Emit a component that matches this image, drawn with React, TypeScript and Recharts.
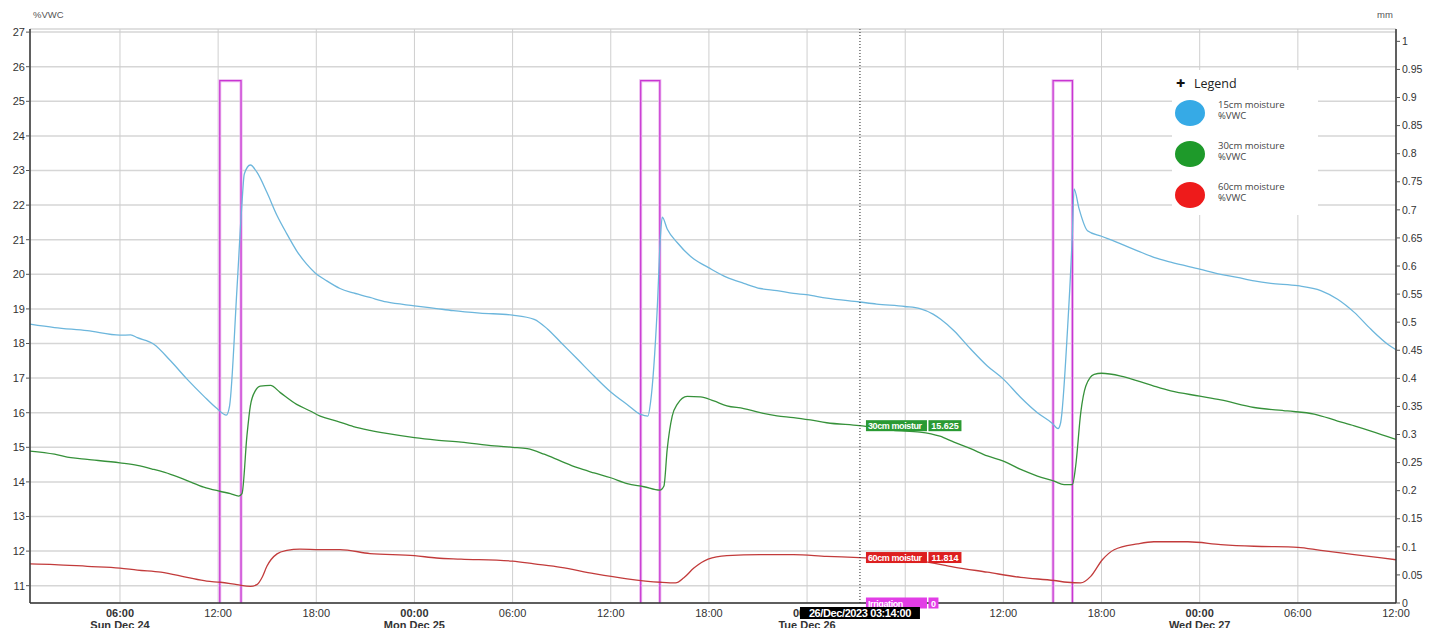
import React from 'react';
import {
  LineChart,
  Line,
  XAxis,
  YAxis,
  CartesianGrid,
  ReferenceLine,
  ReferenceDot,
  Legend,
} from 'recharts';

// time in hours since Sun Dec 24 00:00
const xTicks = [6, 12, 18, 24, 30, 36, 42, 48, 54, 60, 66, 72, 78, 84];
const dayLabels: Record<number, string> = {
  6: 'Sun Dec 24',
  24: 'Mon Dec 25',
  48: 'Tue Dec 26',
  72: 'Wed Dec 27',
};
const leftTicks = [11, 12, 13, 14, 15, 16, 17, 18, 19, 20, 21, 22, 23, 24, 25, 26, 27];
const rightTicks = [0, 0.05, 0.1, 0.15, 0.2, 0.25, 0.3, 0.35, 0.4, 0.45, 0.5, 0.55, 0.6, 0.65, 0.7, 0.75, 0.8, 0.85, 0.9, 0.95, 1];

const moisture15: [number, number][] = [
  [0.5, 18.56], [2, 18.46], [4, 18.37], [6, 18.24], [6.65, 18.25], [7.06, 18.17], [8.07, 17.98],
  [9.09, 17.5], [10.1, 16.97], [11.12, 16.48], [11.93, 16.12], [12.5, 15.93], [12.7, 16.2],
  [13.15, 19.57], [13.46, 22.08], [13.6, 22.9], [13.97, 23.16], [14.37, 22.95], [14.98, 22.37],
  [15.6, 21.7], [16.2, 21.17], [16.8, 20.68], [17.4, 20.3], [17.93, 20.04], [18.64, 19.81],
  [19.45, 19.59], [20.27, 19.46], [21.28, 19.33], [22.3, 19.2], [24, 19.09], [25.35, 19.01],
  [26.37, 18.95], [28, 18.88], [30, 18.82], [31.32, 18.7], [32.13, 18.42], [32.95, 18.03],
  [33.96, 17.55], [34.98, 17.06], [36, 16.6], [37, 16.24], [37.83, 15.95], [38.27, 15.9],
  [38.43, 16.29], [38.84, 18.99], [39.04, 21.12], [39.15, 21.65], [39.45, 21.31], [40.06, 20.92],
  [41.08, 20.44], [41.95, 20.2], [43.1, 19.91], [44.13, 19.74], [45.14, 19.59], [46.16, 19.53],
  [47.17, 19.45], [47.95, 19.41], [49.2, 19.31], [51.2, 19.2], [52.25, 19.14], [53.98, 19.07],
  [54.9, 19.01], [55.7, 18.85], [56.17, 18.7], [56.98, 18.37], [58, 17.84], [59.02, 17.35],
  [60, 16.97], [61.06, 16.44], [62.08, 16.0], [63, 15.69], [63.34, 15.54], [63.5, 15.71],
  [63.91, 18.32], [64.22, 21.21], [64.32, 22.47], [64.63, 21.89], [65.14, 21.26], [66, 21.1],
  [67.18, 20.88], [68.2, 20.68], [69.2, 20.49], [70.23, 20.35], [72, 20.15], [73.29, 20.0],
  [74.3, 19.91], [75.33, 19.81], [76.35, 19.74], [78, 19.67], [79.4, 19.53], [80.43, 19.28],
  [81.45, 18.9], [82.47, 18.41], [83.49, 17.98], [84, 17.82],
];

const moisture30: [number, number][] = [
  [0.5, 14.89], [2, 14.8], [3, 14.7], [4, 14.65], [6, 14.55], [7.06, 14.48], [8.07, 14.36],
  [9.09, 14.22], [10.1, 14.04], [11.12, 13.85], [12.1, 13.73], [12.75, 13.66], [13.26, 13.59],
  [13.46, 13.66], [13.76, 15.33], [13.97, 16.2], [14.27, 16.63], [14.58, 16.77], [15.2, 16.79],
  [15.8, 16.58], [16.8, 16.24], [17.63, 16.05], [18.24, 15.9], [19.25, 15.76], [20.27, 15.6],
  [21.28, 15.49], [22.3, 15.4], [24, 15.28], [25.35, 15.21], [26.85, 15.15], [28.88, 15.04],
  [30, 15.0], [30.9, 14.96], [31.93, 14.8], [32.95, 14.6], [33.96, 14.41], [34.98, 14.26],
  [36, 14.12], [37, 13.95], [38.03, 13.86], [39, 13.76], [39.25, 13.88], [39.45, 14.94],
  [39.76, 15.91], [40.06, 16.24], [40.67, 16.47], [41.48, 16.46], [42.3, 16.34], [43.1, 16.2],
  [44.13, 16.12], [45.14, 16.0], [46.16, 15.91], [47.17, 15.86], [48.2, 15.79], [49.2, 15.71],
  [51.2, 15.625], [53.27, 15.49], [54.9, 15.44], [56.12, 15.32], [56.98, 15.15], [58, 14.96],
  [59.02, 14.75], [60, 14.6], [61.06, 14.36], [62.08, 14.17], [63.1, 14.02], [63.71, 13.92],
  [64.22, 13.92], [64.42, 14.46], [64.73, 16.0], [65.04, 16.77], [65.55, 17.11], [66, 17.14],
  [67.18, 17.06], [68.2, 16.92], [69.2, 16.77], [70.23, 16.63], [72, 16.48], [73.29, 16.37],
  [75.33, 16.15], [77.35, 16.05], [79, 15.96], [80.43, 15.76], [81.45, 15.62], [82.47, 15.47],
  [84, 15.23],
];

const moisture60: [number, number][] = [
  [0.5, 11.63], [2, 11.61], [4, 11.56], [6, 11.51], [7.06, 11.45], [8.5, 11.39], [10.1, 11.24],
  [11.3, 11.13], [12.14, 11.1], [13.15, 11.03], [13.97, 10.98], [14.37, 11.03], [14.7, 11.25],
  [14.98, 11.56], [15.6, 11.92], [16.2, 12.02], [17, 12.06], [18.24, 12.04], [19.45, 12.04],
  [21.28, 11.93], [24, 11.87], [25.35, 11.8], [26.85, 11.77], [30, 11.71], [31.32, 11.63],
  [32.95, 11.53], [34.98, 11.35], [37, 11.2], [39.04, 11.1], [39.96, 11.08], [40.47, 11.23],
  [41.08, 11.51], [41.95, 11.77], [43.1, 11.87], [45.14, 11.9], [47.17, 11.9], [49.2, 11.85],
  [51.2, 11.814], [54.94, 11.71], [56.98, 11.54], [59.02, 11.39], [61.06, 11.24], [63.1, 11.15],
  [63.91, 11.1], [64.73, 11.08], [65.34, 11.27], [66.05, 11.75], [66.77, 12.04], [68.2, 12.21],
  [69.2, 12.27], [71.28, 12.27], [73.29, 12.19], [75.33, 12.14], [78, 12.11], [79.4, 12.02],
  [81.45, 11.9], [84, 11.75],
];

const irrigationStart = [12.1, 37.83, 63.04];
const irrigationEnd = [13.4, 39.0, 64.22];
const irrigationAmount = [0.93, 0.93, 0.93];

const cursorTime = 51.233; // 26/Dec/2023 03:14:00
const cursorLabel = '26/Dec/2023 03:14:00';
const cursor30 = 15.625;
const cursor60 = 11.814;
const cursorIrrigation = 0;

const legendItems = [
  { name: '15cm moisture', unit: '%VWC', color: '#36aae6' },
  { name: '30cm moisture', unit: '%VWC', color: '#1e9a2a' },
  { name: '60cm moisture', unit: '%VWC', color: '#ee1b1b' },
];

const toRows = (arr: [number, number][]) => arr.map(([t, v]) => ({ t, v }));
const data15 = toRows(moisture15);
const data30 = toRows(moisture30);
const data60 = toRows(moisture60);

const irrigationData: { t: number; v: number | null }[] = [];
irrigationStart.forEach((s, i) => {
  const e = irrigationEnd[i];
  const a = irrigationAmount[i];
  irrigationData.push({ t: s, v: 0 }, { t: s, v: a }, { t: e, v: a }, { t: e, v: 0 }, { t: e + 0.05, v: null });
});

const FONT = '"Liberation Sans", Arial, sans-serif';

const XTick = (props: any) => {
  const { x, y, payload } = props;
  const h = payload.value as number;
  const hh = ((h % 24) + 24) % 24;
  const label = `${String(hh).padStart(2, '0')}:00`;
  const day = dayLabels[h];
  const bold = !!day;
  return (
    <g>
      <text x={x} y={y + 11} textAnchor="middle" fontSize={11} fontFamily={FONT} fontWeight={bold ? 700 : 400} fill="#333">
        {label}
      </text>
      {day && (
        <text x={x} y={y + 22.5} textAnchor="middle" fontSize={11} fontFamily={FONT} fontWeight={700} fill="#333">
          {day}
        </text>
      )}
    </g>
  );
};

const makeBox = (name: string, value: string, color: string, nameW: number, valueW: number) => (p: any) => {
  const { cx, cy } = p;
  if (cx == null || cy == null) return <g />;
  const x0 = cx + 6;
  return (
    <g>
      <rect x={x0} y={cy - 5.5} width={nameW} height={11} fill={color} />
      <text x={x0 + 2} y={cy + 3.5} fontSize={9} fontWeight={700} fill="#fff" fontFamily='"Liberation Sans Narrow", "Liberation Sans", Arial' letterSpacing={-0.4}>
        {name}
      </text>
      <rect x={x0 + nameW + 1.5} y={cy - 5.5} width={valueW} height={11} fill={color} />
      <text x={x0 + nameW + 1.5 + valueW / 2} y={cy + 3.5} textAnchor="middle" fontSize={9} fontWeight={700} fill="#fff" fontFamily='"Liberation Sans Narrow", "Liberation Sans", Arial'>
        {value}
      </text>
    </g>
  );
};

const TimeBox = (p: any) => {
  const { cx, cy } = p;
  if (cx == null || cy == null) return <g />;
  const w = 120;
  return (
    <g>
      <rect x={cx - w / 2} y={cy + 4} width={w} height={12} fill="#000" />
      <text x={cx} y={cy + 14} textAnchor="middle" fontSize={11} fontWeight={700} fill="#fff" fontFamily={FONT} letterSpacing={-0.4}>
        {cursorLabel}
      </text>
    </g>
  );
};

const LegendBox = () => (
  <div
    style={{
      width: 146,
      height: 145,
      background: '#fff',
      fontFamily: '"Open Sans", "Noto Sans", sans-serif',
      boxSizing: 'border-box',
      paddingTop: 4,
      textAlign: 'left',
    }}
  >
    <div style={{ display: 'flex', alignItems: 'center', height: 18, paddingLeft: 4 }}>
      <span style={{ fontSize: 16, fontWeight: 900, color: '#111', width: 18, lineHeight: '16px' }}>+</span>
      <span style={{ fontSize: 12.5, color: '#222' }}>Legend</span>
    </div>
    {legendItems.map((it) => (
      <div key={it.name} style={{ display: 'flex', alignItems: 'center', height: 41, marginTop: 0 }}>
        <div style={{ width: 30, height: 26, borderRadius: '50%', background: it.color, marginLeft: 3, marginRight: 13 }} />
        <div style={{ fontSize: 9.5, color: '#444', lineHeight: '11px', marginTop: -6 }}>
          <div>{it.name}</div>
          <div>{it.unit}</div>
        </div>
      </div>
    ))}
  </div>
);

export default function App() {
  const refZ: any = { zIndex: 3000 };
  return (
    <div style={{ position: 'absolute', left: 0, top: 0, width: 1441, height: 628, background: '#fff', overflow: 'hidden' }}>
      <div style={{ position: 'absolute', left: 33, top: 9, fontSize: 9.5, color: '#555', fontFamily: FONT }}>%VWC</div>
      <div style={{ position: 'absolute', left: 1377, top: 9, fontSize: 9.5, color: '#555', fontFamily: FONT }}>mm</div>
      <LineChart width={1441} height={628} margin={{ top: 29, right: 0, bottom: 0, left: 0 }}>
        <CartesianGrid yAxisId="left" horizontal={true} vertical={false} stroke="#d6d6d6" strokeWidth={1.5} />
        <CartesianGrid yAxisId="left" horizontal={false} vertical={true} stroke="#cfcfcf" strokeWidth={1} />
        <XAxis
          dataKey="t"
          type="number"
          domain={[0.5, 84]}
          ticks={xTicks}
          allowDataOverflow
          height={25}
          tickLine={false}
          tickSize={3}
          tickMargin={0}
          tick={<XTick />}
          axisLine={{ stroke: '#333', strokeWidth: 1.5 }}
          interval={0}
        />
        <XAxis
          xAxisId="top"
          orientation="top"
          dataKey="t"
          type="number"
          domain={[0.5, 84]}
          height={0}
          tick={false}
          tickLine={false}
          axisLine={{ stroke: '#333', strokeWidth: 1.5 }}
        />
        <YAxis
          yAxisId="left"
          domain={[10.5, 27.09]}
          ticks={leftTicks}
          allowDataOverflow
          width={30}
          tickSize={4}
          tickMargin={1}
          interval={0}
          tick={{ fontSize: 11, fill: '#333', fontFamily: FONT }}
          tickLine={{ stroke: '#555' }}
          axisLine={{ stroke: '#333', strokeWidth: 1.5 }}
        />
        <YAxis
          yAxisId="right"
          orientation="right"
          domain={[0, 1.022]}
          ticks={rightTicks}
          allowDataOverflow
          width={45}
          tickSize={4}
          tickMargin={2}
          interval={0}
          tick={{ fontSize: 10.5, fill: '#333', fontFamily: FONT }}
          tickLine={{ stroke: '#555' }}
          axisLine={{ stroke: '#333', strokeWidth: 1.5 }}
        />
        <Line data={irrigationData} yAxisId="right" dataKey="v" type="linear" stroke="#eab6ee" strokeWidth={3} dot={false} connectNulls={false} isAnimationActive={false} />
        <Line data={irrigationData} yAxisId="right" dataKey="v" type="linear" stroke="#c935d2" strokeWidth={1.2} dot={false} connectNulls={false} isAnimationActive={false} />
        <Line data={data60} yAxisId="left" dataKey="v" type="monotone" stroke="#c23b3b" strokeWidth={1.3} dot={false} isAnimationActive={false} />
        <Line data={data30} yAxisId="left" dataKey="v" type="monotone" stroke="#36913a" strokeWidth={1.3} dot={false} isAnimationActive={false} />
        <Line data={data15} yAxisId="left" dataKey="v" type="monotone" stroke="#6cb6dc" strokeWidth={1.3} dot={false} isAnimationActive={false} />
        <ReferenceLine x={cursorTime} yAxisId="left" stroke="#222" strokeDasharray="1 2" strokeWidth={1} />
        <ReferenceDot {...refZ} x={cursorTime} y={cursor30} yAxisId="left" shape={makeBox('30cm moistur', '15.625', '#2a9a33', 61, 33)} />
        <ReferenceDot {...refZ} x={cursorTime} y={cursor60} yAxisId="left" shape={makeBox('60cm moistur', '11.814', '#dd1f1f', 61, 33)} />
        <ReferenceDot {...refZ} x={cursorTime} y={cursorIrrigation} yAxisId="right" shape={makeBox('Irrigation', String(cursorIrrigation), '#e23de6', 61, 10)} />
        <ReferenceDot {...refZ} x={cursorTime} y={cursorIrrigation} yAxisId="right" shape={<TimeBox />} />
        <Legend
          layout="vertical"
          align="center"
          verticalAlign="middle"
          content={<LegendBox />}
          wrapperStyle={{ position: 'absolute', left: 1172, top: 70, width: 146, height: 145 }}
        />
      </LineChart>
    </div>
  );
}
